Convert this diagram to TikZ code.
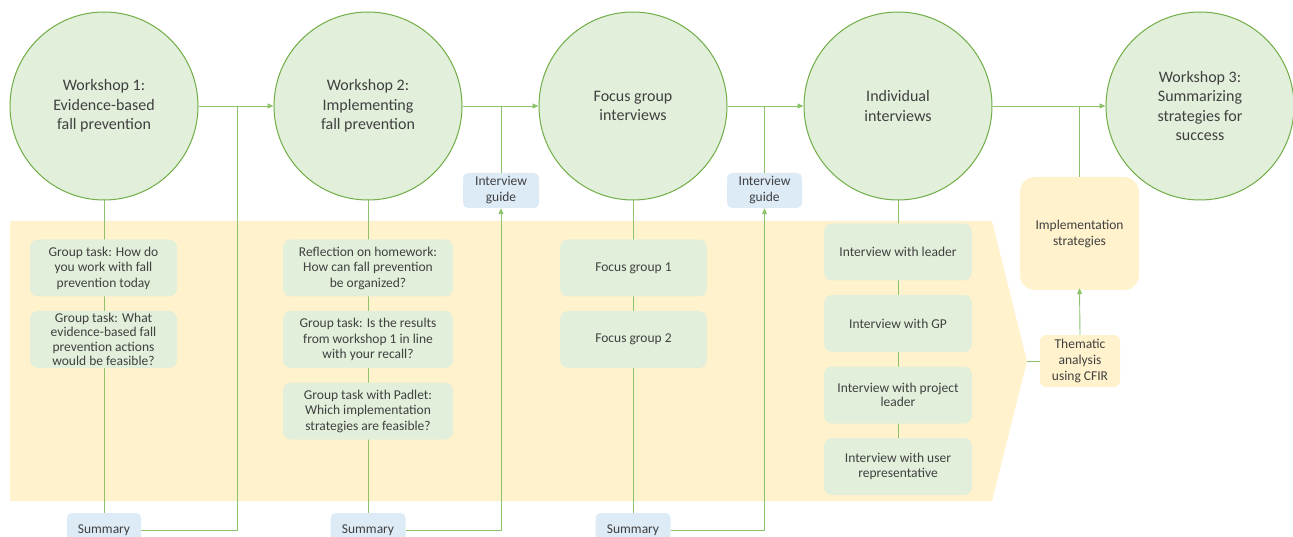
\documentclass[tikz,border=0pt]{standalone}
\usepackage{fontspec}
\setmainfont{Carlito}
\usetikzlibrary{arrows.meta}
\definecolor{circfill}{HTML}{E2EFDA}
\definecolor{circdraw}{HTML}{70AD47}
\definecolor{taskfill}{HTML}{E2EFDA}
\definecolor{bandfill}{HTML}{FFF2CC}
\definecolor{bluefill}{HTML}{DDEBF7}
\definecolor{linecol}{HTML}{8CC26A}
\definecolor{txt}{HTML}{404040}
\pgfdeclarelayer{bandlayer}
\pgfdeclarelayer{linelayer}
\pgfsetlayers{bandlayer,linelayer,main}
\tikzset{
  phase/.style={circle, fill=circfill, draw=circdraw, line width=1pt, minimum size=188pt, inner sep=0pt, align=center, text=txt, font=\fontsize{16}{19.5}\selectfont},
  task/.style={rectangle, rounded corners=8pt, fill=taskfill, minimum height=57pt, inner sep=2pt, align=center, text=txt, font=\fontsize{13.5}{15.5}\selectfont},
  smalltask/.style={task, font=\fontsize{13.5}{14.5}\selectfont},
  guide/.style={rectangle, rounded corners=5pt, fill=bluefill, minimum width=75pt, minimum height=35pt, inner sep=1pt, align=center, text=txt, font=\fontsize{13.5}{16}\selectfont},
  yelbox/.style={rectangle, fill=bandfill, inner sep=1pt, align=center, text=txt, font=\fontsize{13.5}{16}\selectfont},
  conn/.style={draw=linecol, line width=0.9pt},
  arr/.style={conn, -{Triangle[length=6pt,width=5pt]}}
}
\begin{document}
\begin{tikzpicture}[x=1pt,y=-1pt]
\useasboundingbox (0,0) rectangle (1293,537);
% band
\begin{pgfonlayer}{bandlayer}
\fill[bandfill] (10,221) -- (992,221) -- (1027,361) -- (992,501) -- (10,501) -- cycle;
\end{pgfonlayer}
\coordinate (tip) at (1027,361);
% phases
\node[phase] (w1) at (104,106) {Workshop 1:\\Evidence-based\\fall prevention};
\node[phase] (w2) at (368,106) {Workshop 2:\\Implementing\\fall prevention};
\node[phase] (fg) at (633,106) {Focus group\\interviews};
\node[phase] (ii) at (898,106) {Individual\\interviews};
\node[phase] (w3) at (1200,106) {Workshop 3:\\Summarizing\\strategies for\\success};
% column 1
\node[task, minimum width=147pt] (a1) at (103.5,268) {Group task: How do\\you work with fall\\prevention today};
\node[smalltask, minimum width=147pt] (a2) at (103.5,339.5) {Group task: What\\evidence-based fall\\prevention actions\\would be feasible?};
\node[guide, minimum width=74pt] (s1) at (104,530.5) {Summary};
% column 2
\node[task, minimum width=170pt] (b1) at (368,268) {Reflection on homework:\\How can fall prevention\\be organized?};
\node[task, minimum width=170pt] (b2) at (368,339.5) {Group task: Is the results\\from workshop 1 in line\\with your recall?};
\node[task, minimum width=170pt] (b3) at (368,411) {Group task with Padlet:\\Which implementation\\strategies are feasible?};
\node[guide] (s2) at (368,530.5) {Summary};
% column 3
\node[task, minimum width=147pt] (c1) at (633.5,268) {Focus group 1};
\node[task, minimum width=147pt] (c2) at (633.5,339.5) {Focus group 2};
\node[guide] (s3) at (633,530.5) {Summary};
% column 4
\node[smalltask, minimum width=148pt] (d1) at (898,252) {Interview with leader};
\node[smalltask, minimum width=148pt] (d2) at (898,323.5) {Interview with GP};
\node[smalltask, minimum width=148pt] (d3) at (898,395) {Interview with project\\leader};
\node[smalltask, minimum width=148pt] (d4) at (898,466.5) {Interview with user\\representative};
% guides
\node[guide, minimum width=76pt] (g1) at (501,190.5) {Interview\\guide};
\node[guide] (g2) at (764.5,190.5) {Interview\\guide};
% right side
\node[yelbox, rounded corners=6pt, minimum width=80pt, minimum height=52pt] (th) at (1080,361) {Thematic\\analysis\\using CFIR};
\node[yelbox, rounded corners=15pt, minimum width=119pt, minimum height=113pt] (im) at (1079.5,233.5) {Implementation\\strategies};
\coordinate (j1) at (237,106);
% connectors
\begin{pgfonlayer}{linelayer}
\draw[conn] (w1.south) -- (s1.north);
\draw[conn] (w2.south) -- (s2.north);
\draw[conn] (fg.south) -- (s3.north);
\draw[conn] (ii.south) -- (d4.center);
\end{pgfonlayer}
\draw[arr] (w1.east) -- (w2.west);
\draw[arr] (w2.east) -- (fg.west);
\draw[arr] (fg.east) -- (ii.west);
\draw[arr] (ii.east) -- (w3.west);
\draw[conn] (s1.east) -| (j1);
\draw[conn] (g1.north) -- (g1.north |- w2.east);
\draw[arr] (s2.east) -| (g1.south);
\draw[conn] (g2.north) -- (g2.north |- fg.east);
\draw[arr] (s3.east) -| (g2.south);
\draw[conn] (im.north) -- (im.north |- ii.east);
\draw[conn] (tip) -- (th.west);
\draw[arr] (th.north) -- ([yshift=2pt]im.south);
\end{tikzpicture}
\end{document}
